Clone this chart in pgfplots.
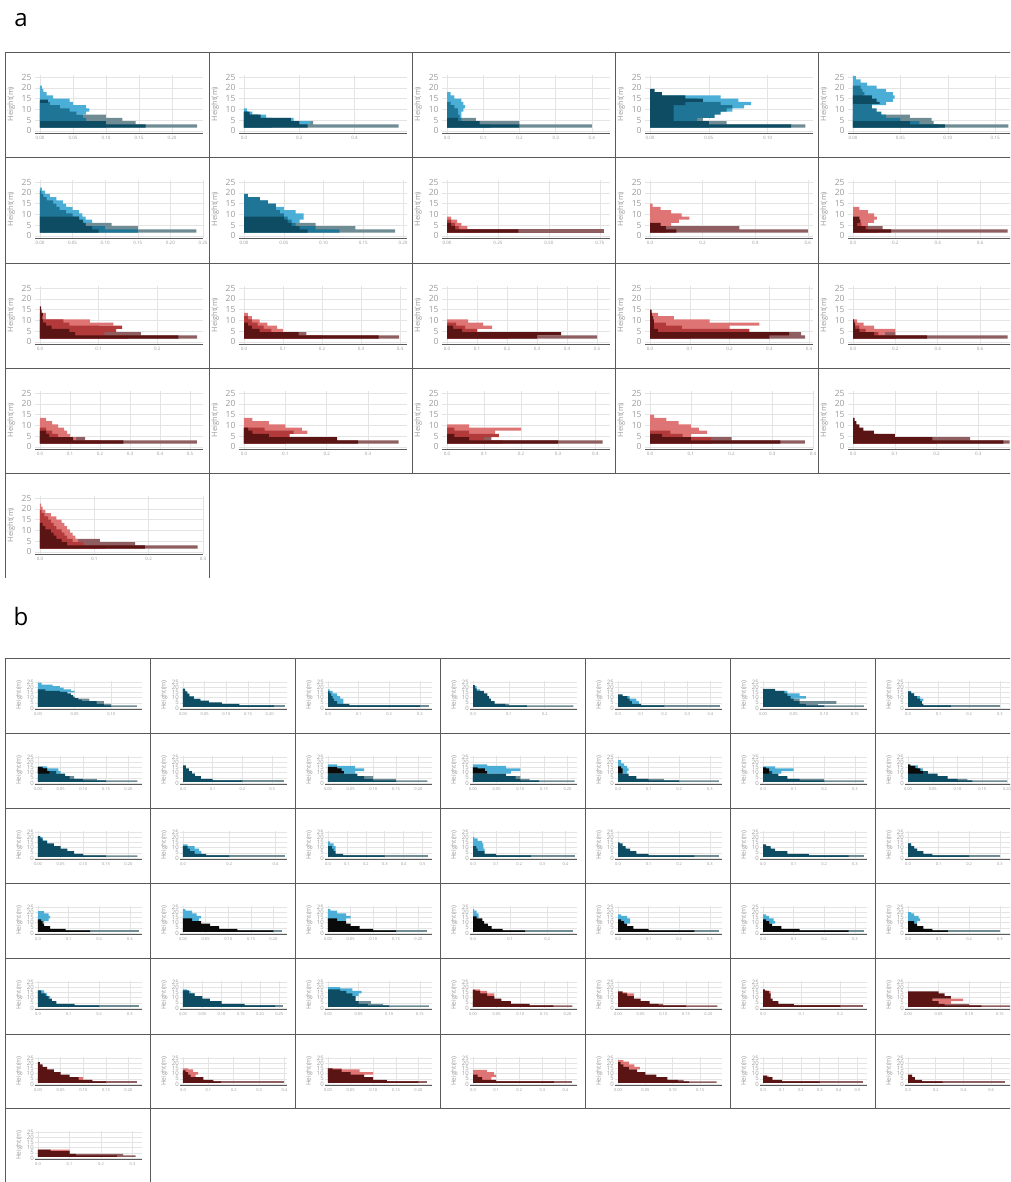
\documentclass[border=0pt]{standalone}
\usepackage{fontspec}
\setmainfont{Open Sans}
\usepackage{pgfplots}
\pgfplotsset{compat=1.18}
\definecolor{cL}{HTML}{4BAED6}
\definecolor{cM}{HTML}{1F7595}
\definecolor{cD}{HTML}{0E4C63}
\definecolor{cG}{HTML}{6F8C94}
\definecolor{cK}{HTML}{0A0A0A}
\definecolor{rL}{HTML}{DE7474}
\definecolor{rM}{HTML}{B23A3A}
\definecolor{rD}{HTML}{5A1414}
\definecolor{rG}{HTML}{8E5E60}
\definecolor{tk}{HTML}{9A9A9A}
\definecolor{gr}{HTML}{E4E4E4}
\definecolor{fr}{HTML}{5A5A5A}
\pgfplotsset{
 cellbase/.style={scale only axis, axis line style={draw=none}, major tick length=0pt,
   grid=major, major grid style={gr, line width=0.5pt}, ymin=-1, ymax=26,
   ytick={0,5,10,15,20,25}, scaled x ticks=false,
   /pgf/number format/assume math mode=true,
   xticklabel style={/pgf/number format/fixed, /pgf/number format/fixed zerofill, text=tk},
   yticklabel style={text=tk}, ylabel={Height(m)}, ylabel style={text=tk},
   after end axis/.code={\draw[fr, line width=0.9pt] (rel axis cs:0,0) -- (rel axis cs:1,0);}},
 cellA/.style={cellbase, width=168pt, height=58pt,
   xticklabel style={font=\fontsize{4.5}{5}\selectfont},
   yticklabel style={font=\fontsize{8.5}{9}\selectfont},
   ylabel style={font=\fontsize{7.5}{8}\selectfont}},
 cellB/.style={cellbase, width=107pt, height=28pt,
   xticklabel style={font=\fontsize{4}{4.5}\selectfont},
   yticklabel style={font=\fontsize{6}{6}\selectfont, inner sep=1pt},
   ylabel style={font=\fontsize{6.5}{6.5}\selectfont}},
}
\newcommand{\G}[2]{\addplot[xbar interval, fill=#1, draw=none] coordinates {#2};}
\newcommand{\PA}[6]{%
 \pgfmathsetmacro\xmn{-5/163*#3}%
 \begin{axis}[cellA, at={(#1pt+30pt,-#2pt-81pt)}, xmin=\xmn, xmax=#3, xtick distance=#4,
   xticklabel style={/pgf/number format/precision=#5}]
 #6
 \end{axis}}
\newcommand{\PB}[6]{%
 \pgfmathsetmacro\xmn{-3/104*#3}%
 \begin{axis}[cellB, at={(#1pt+30pt,-#2pt-51pt)}, xmin=\xmn, xmax=#3, xtick distance=#4,
   xticklabel style={/pgf/number format/precision=#5}]
 #6
 \end{axis}}
\begin{document}
\begin{tikzpicture}[x=1pt,y=1pt]
\path[use as bounding box, clip] (0,0) rectangle (1010,-1182);
\node[font=\fontsize{24}{24}\selectfont] at (21,-20) {a};
\node[font=\fontsize{24}{24}\selectfont] at (21,-616) {b};
% frames a
\foreach \y in {52,157,263,368,473} \draw[fr,line width=0.9pt] (5,-\y) -- (1012,-\y);
\foreach \x in {5,209,412,615,818} \draw[fr,line width=0.9pt] (\x,-52) -- (\x,-473);
\foreach \x in {5,209} \draw[fr,line width=0.9pt] (\x,-473) -- (\x,-578);
% frames b
\foreach \y in {658,733,808,883,958,1034,1108} \draw[fr,line width=0.9pt] (5,-\y) -- (1012,-\y);
\foreach \x in {5,150,295,440,585,730,875} \draw[fr,line width=0.9pt] (\x,-658) -- (\x,-1108);
\foreach \x in {5,150} \draw[fr,line width=0.9pt] (\x,-1108) -- (\x,-1190);
% ---------------- panel a ----------------
\PA{5}{52}{0.247}{0.05}{2}{
\G{cG}{(0.238,1.5)(0.145,3)(0.125,4.5)(0.10,6)(0,7.5)}
\G{cL}{(0,6)(0.07,7.5)(0.075,9)(0.07,10.5)(0.05,12)(0.045,13.5)(0.02,15)(0.01,16.5)(0.005,18)(0.003,19.5)(0,21)}
\G{cM}{(0.1,1.5)(0.08,3)(0.07,4.5)(0.065,6)(0.055,7.5)(0.045,9)(0.03,10.5)(0.015,12)(0,13.5)}
\G{cD}{(0.16,1.5)(0.10,3)(0,4.5)(0,12)(0.012,13)(0,14.5)}
}
\PA{209}{52}{0.59}{0.2}{1}{
\G{cG}{(0.56,1.5)(0.25,3)(0,4.5)}
\G{cL}{(0,1.5)(0.24,3)(0.18,4.5)(0.08,6)(0.03,7.5)(0.01,9)(0,10.5)}
\G{cM}{(0.1,1.5)(0.1,3)(0.1,4.5)(0.05,6)(0.015,7.5)(0,9)}
\G{cD}{(0.23,1.5)(0.2,3)(0.17,4.5)(0.06,6)(0.02,7.5)(0,9)}
}
\PA{412}{52}{0.45}{0.1}{1}{
\G{cG}{(0.40,1.5)(0.2,3)(0.08,4.5)(0,6)}
\G{cL}{(0.04,6)(0.04,7.5)(0.045,9)(0.05,10.5)(0.045,12)(0.04,13.5)(0.02,15)(0.01,16.5)(0,18)}
\G{cM}{(0.12,1.5)(0.08,3)(0.04,4.5)(0.035,6)(0.03,7.5)(0.03,9)(0.02,10.5)(0.01,12)(0,13.5)}
\G{cD}{(0.2,1.5)(0.09,3)(0.03,4.5)(0,6)}
}
\PA{615}{52}{0.1385}{0.05}{2}{
\G{cG}{(0.132,1.5)(0.065,3)(0.045,4.5)(0.04,6)(0,7.5)}
\G{cL}{(0.07,9)(0.08,10.5)(0.086,12)(0.075,13.5)(0.06,15)(0,16.5)}
\G{cM}{(0.05,1.5)(0.04,3)(0.04,4.5)(0.055,6)(0.06,7.5)(0.065,9)(0.07,10.5)(0.06,12)(0.04,13.5)(0,15)}
\G{cD}{(0.12,1.5)(0.05,3)(0.02,4.5)(0.02,6)(0.02,7.5)(0.02,9)(0.02,10.5)(0.03,12)(0.045,13.5)(0.03,15)(0.01,16.5)(0.004,18)(0,19.5)}
}
\PA{818}{52}{0.172}{0.05}{2}{
\G{cG}{(0.164,1.5)(0.085,3)(0.083,4.5)(0.06,6)(0,7.5)}
\G{cL}{(0.035,12)(0.042,13.5)(0.044,15)(0.042,16.5)(0.035,18)(0.025,19.5)(0.015,21)(0.008,22.5)(0.003,24)(0,25.5)}
\G{cM}{(0.09,1.5)(0.07,3)(0.05,4.5)(0.035,6)(0.03,7.5)(0.025,9)(0.02,10.5)(0.02,12)(0.015,13.5)(0.01,15)(0.012,16.5)(0.01,18)(0.008,19.5)(0,21)}
\G{cD}{(0.097,1.5)(0.06,3)(0,4.5)(0,12)(0.028,12.5)(0.025,13.5)(0.02,15)(0,16.5)}
}
\PA{5}{157}{0.25}{0.05}{2}{
\G{cG}{(0.24,1.5)(0.15,3)(0.11,4.5)(0,6)}
\G{cL}{(0.08,6)(0.07,7.5)(0.065,9)(0.06,10.5)(0.05,12)(0.04,13.5)(0.035,15)(0.025,16.5)(0.015,18)(0.008,19.5)(0.003,21)(0,22.5)}
\G{cM}{(0.15,1.5)(0.10,3)(0.07,4.5)(0.06,6)(0.06,7.5)(0.05,9)(0.04,10.5)(0.03,12)(0.025,13.5)(0.02,15)(0.01,16.5)(0.005,18)(0.002,19.5)(0,21)}
\G{cD}{(0.09,1.5)(0.08,3)(0.07,4.5)(0.066,6)(0.06,7.5)(0,9)}
}
\PA{209}{157}{0.205}{0.05}{2}{
\G{cG}{(0.19,1.5)(0.14,3)(0.09,4.5)(0,6)}
\G{cL}{(0.07,6)(0.075,7.5)(0.075,9)(0.065,10.5)(0.05,12)(0.04,13.5)(0.03,15)(0.015,16.5)(0.005,18)(0,19.5)}
\G{cM}{(0.12,1.5)(0.09,3)(0.065,4.5)(0.06,6)(0.055,7.5)(0.05,9)(0.045,10.5)(0.04,12)(0.04,13.5)(0.03,15)(0.02,16.5)(0.005,18)(0,19.5)}
\G{cD}{(0.08,1.5)(0.07,3)(0.06,4.5)(0.055,6)(0.05,7.5)(0,9)}
}
\PA{412}{157}{0.80}{0.25}{2}{
\G{rG}{(0.77,1.5)(0,3)}
\G{rL}{(0.08,1.5)(0.1,3)(0.07,4.5)(0.05,6)(0.02,7.5)(0,9)}
\G{rM}{(0.16,1.5)(0.06,3)(0.04,4.5)(0.02,6)(0,7.5)}
\G{rD}{(0.35,1.5)(0.04,3)(0.02,4.5)(0,6)}
}
\PA{615}{157}{0.62}{0.2}{1}{
\G{rG}{(0.6,1.5)(0.34,3)(0,4.5)}
\G{rL}{(0.05,3)(0.08,4.5)(0.11,6)(0.15,7.5)(0.12,9)(0.08,10.5)(0.04,12)(0.01,13.5)(0,15)}
\G{rM}{(0.06,1.5)(0.05,3)(0,4.5)}
\G{rD}{(0.1,1.5)(0.06,3)(0.04,4.5)(0,6)}
}
\PA{818}{157}{0.77}{0.2}{1}{
\G{rG}{(0.73,1.5)(0.14,3)(0,4.5)}
\G{rL}{(0.07,4.5)(0.1,6)(0.113,7.5)(0.1,9)(0.07,10.5)(0.03,12)(0,13.5)}
\G{rM}{(0.12,1.5)(0.07,3)(0.04,4.5)(0,6)}
\G{rD}{(0.18,1.5)(0.06,3)(0.02,4.5)(0.035,6)(0.03,7.5)(0,9)}
}
\PA{5}{263}{0.278}{0.1}{1}{
\G{rG}{(0.268,1.5)(0.172,3)(0.1,4.5)(0,6)}
\G{rL}{(0.1,6)(0.125,7.5)(0.085,9)(0.01,10.5)(0.01,12)(0,13.5)}
\G{rM}{(0.15,1.5)(0.11,3)(0.13,4.5)(0.14,6)(0.05,7.5)(0.04,9)(0,10.5)}
\G{rD}{(0.236,1.5)(0.06,3)(0.05,4.5)(0.02,6)(0.01,7.5)(0.005,9)(0.004,10.5)(0.005,12)(0.003,13.5)(0.002,15)(0,16.5)}
}
\PA{209}{263}{0.418}{0.1}{1}{
\G{rG}{(0.398,1.5)(0.16,3)(0,4.5)}
\G{rL}{(0.12,3)(0.1,4.5)(0.085,6)(0.06,7.5)(0.04,9)(0.02,10.5)(0.01,12)(0,13.5)}
\G{rM}{(0.2,1.5)(0.1,3)(0.07,4.5)(0.05,6)(0.035,7.5)(0.02,9)(0.01,10.5)(0,12)}
\G{rD}{(0.345,1.5)(0.14,3)(0.04,4.5)(0.02,6)(0.01,7.5)(0,9)}
}
\PA{412}{263}{0.543}{0.1}{1}{
\G{rG}{(0.5,1.5)(0.2,3)(0,4.5)}
\G{rL}{(0.1,4.5)(0.15,6)(0.12,7.5)(0.07,9)(0,10.5)}
\G{rM}{(0.2,1.5)(0.15,3)(0.1,4.5)(0.06,6)(0.03,7.5)(0,9)}
\G{rD}{(0.3,1.5)(0.38,3)(0.05,4.5)(0.02,6)(0,7.5)}
}
\PA{615}{263}{0.41}{0.1}{1}{
\G{rG}{(0.39,1.5)(0.38,3)(0,4.5)}
\G{rL}{(0.05,4.5)(0.2,6)(0.275,7.5)(0.15,9)(0.06,10.5)(0.02,12)(0,13.5)}
\G{rM}{(0.1,1.5)(0.08,3)(0.25,4.5)(0.08,6)(0.04,7.5)(0,9)}
\G{rD}{(0.3,1.5)(0.35,3)(0.02,4.5)(0.01,6)(0.01,7.5)(0.01,9)(0.008,10.5)(0.005,12)(0.004,13.5)(0,15)}
}
\PA{818}{263}{0.77}{0.2}{1}{
\G{rG}{(0.73,1.5)(0.2,3)(0,4.5)}
\G{rL}{(0.15,3)(0.2,4.5)(0.1,6)(0.05,7.5)(0.02,9)(0,10.5)}
\G{rM}{(0.2,1.5)(0.12,3)(0.06,4.5)(0.03,6)(0,7.5)}
\G{rD}{(0.35,1.5)(0.1,3)(0.03,4.5)(0.01,6)(0.01,7.5)(0.005,9)(0,10.5)}
}
\PA{5}{368}{0.543}{0.1}{1}{
\G{rG}{(0.523,1.5)(0.15,3)(0,4.5)}
\G{rL}{(0.12,3)(0.1,4.5)(0.09,6)(0.08,7.5)(0.06,9)(0.04,10.5)(0.02,12)(0,13.5)}
\G{rM}{(0.2,1.5)(0.09,3)(0.06,4.5)(0.04,6)(0.02,7.5)(0,9)}
\G{rD}{(0.278,1.5)(0.11,3)(0.03,4.5)(0.02,6)(0,7.5)}
}
\PA{209}{368}{0.394}{0.1}{1}{
\G{rG}{(0.374,1.5)(0.13,3)(0,4.5)}
\G{rL}{(0.1,4.5)(0.153,6)(0.14,7.5)(0.1,9)(0.06,10.5)(0.02,12)(0,13.5)}
\G{rM}{(0.1,1.5)(0.2,3)(0.11,4.5)(0.12,6)(0.05,7.5)(0,9)}
\G{rD}{(0.276,1.5)(0.225,3)(0.06,4.5)(0.02,6)(0.01,7.5)(0,9)}
}
\PA{412}{368}{0.44}{0.1}{1}{
\G{rG}{(0.42,1.5)(0.12,3)(0,4.5)}
\G{rL}{(0.08,4.5)(0.13,6)(0.2,7.5)(0.06,9)(0,10.5)}
\G{rM}{(0.15,1.5)(0.1,3)(0.14,4.5)(0.06,6)(0.02,7.5)(0,9)}
\G{rD}{(0.3,1.5)(0.06,3)(0.02,4.5)(0,6)}
}
\PA{615}{368}{0.40}{0.1}{1}{
\G{rG}{(0.38,1.5)(0.2,3)(0,4.5)}
\G{rL}{(0.1,4.5)(0.14,6)(0.12,7.5)(0.1,9)(0.07,10.5)(0.04,12)(0.01,13.5)(0,15)}
\G{rM}{(0.15,1.5)(0.15,3)(0.08,4.5)(0.05,6)(0,7.5)}
\G{rD}{(0.32,1.5)(0.1,3)(0.03,4.5)(0,6)}
}
\PA{818}{368}{0.39}{0.1}{1}{
\G{rG}{(0.375,1.5)(0.28,3)(0,4.5)}
\G{rL}{(0.1,3)(0.05,4.5)(0,6)}
\G{rM}{(0.2,1.5)(0.12,3)(0.06,4.5)(0,6)}
\G{rD}{(0.36,1.5)(0.19,3)(0.1,4.5)(0.05,6)(0.025,7.5)(0.015,9)(0.008,10.5)(0.004,12)(0,13.5)}
}
\PA{5}{473}{0.30}{0.1}{1}{
\G{rG}{(0.29,1.5)(0.175,3)(0.11,4.5)(0,6)}
\G{rL}{(0.07,4.5)(0.065,6)(0.06,7.5)(0.055,9)(0.05,10.5)(0.045,12)(0.04,13.5)(0.03,15)(0.02,16.5)(0.01,18)(0.005,19.5)(0.002,21)(0,22.5)}
\G{rM}{(0.12,1.5)(0.08,3)(0.06,4.5)(0.05,6)(0.045,7.5)(0.04,9)(0.03,10.5)(0.025,12)(0.02,13.5)(0.015,15)(0.008,16.5)(0.003,18)(0,19.5)}
\G{rD}{(0.193,1.5)(0.05,3)(0.04,4.5)(0.03,6)(0.025,7.5)(0.02,9)(0.01,10.5)(0.005,12)(0,13.5)}
}
% ---------------- panel b ----------------
% row 1
\PB{5}{658}{0.142}{0.05}{2}{
\G{cG}{(0.135,1)(0.1,2.5)(0.09,4)(0.07,6.5)(0,9)}
\G{cL}{(0.05,15)(0.045,16.5)(0.035,18)(0.03,19.5)(0.02,21)(0.005,22.5)(0,24.5)}
\G{cD}{(0.1,1)(0.09,2.5)(0.08,4)(0.06,6.5)(0.055,8)(0.05,9.5)(0.048,11)(0.045,12.5)(0.04,14)(0.03,15.5)(0.01,16.5)(0,18)}
}
\PB{150}{658}{0.24}{0.05}{2}{
\G{cG}{(0.235,1)(0,2.5)}
\G{cL}{(0.06,4)(0.04,6.5)(0.025,9)(0.015,11.5)(0.008,14)(0.004,16.5)(0,19)}
\G{cD}{(0.21,1)(0.13,2.5)(0.09,4)(0.06,5.5)(0.04,7)(0.025,8.5)(0.015,11)(0.01,13.5)(0.005,16)(0,18.5)}
}
\PB{295}{658}{0.34}{0.1}{1}{
\G{cG}{(0.33,1)(0,2.5)}
\G{cL}{(0.05,4)(0.05,6.5)(0.04,9)(0.03,11.5)(0.015,14)(0.005,16.5)(0,18)}
\G{cD}{(0.3,1)(0.07,2.5)(0.03,4)(0.02,6.5)(0.015,9)(0.01,11.5)(0.005,14)(0,16)}
}
\PB{440}{658}{0.29}{0.1}{1}{
\G{cG}{(0.28,1)(0.1,2.5)(0,4)}
\G{cL}{(0.03,9)(0.02,14)(0.01,18)(0,21)}
\G{cD}{(0.15,1)(0.09,2.5)(0.06,4)(0.05,6.5)(0.045,9)(0.04,11.5)(0.03,14)(0.01,16.5)(0.005,19)(0,22)}
}
\PB{585}{658}{0.45}{0.1}{1}{
\G{cG}{(0.44,1)(0,2.5)}
\G{cL}{(0.09,4)(0.08,6.5)(0.05,9)(0,11.5)}
\G{cD}{(0.2,1)(0.1,2.5)(0.06,4)(0.05,6.5)(0.04,9)(0.02,11.5)(0,13)}
}
\PB{730}{658}{0.17}{0.05}{2}{
\G{cG}{(0.165,1)(0.09,2.5)(0.12,4)(0.06,6.5)(0,9)}
\G{cL}{(0.03,6.5)(0.07,9)(0.06,11.5)(0.04,14)(0,16.5)}
\G{cD}{(0.1,1)(0.07,2.5)(0.06,4)(0.05,6.5)(0.045,9)(0.04,11.5)(0.035,14)(0.02,16.5)(0,18.5)}
}
\PB{875}{658}{0.34}{0.1}{1}{
\G{cG}{(0.3,1)(0,2.5)}
\G{cL}{(0.05,6.5)(0.04,9)(0.02,11.5)(0.01,14)(0,16)}
\G{cD}{(0.14,1)(0.05,2.5)(0.045,4)(0.04,6.5)(0.03,9)(0.02,11.5)(0.01,14)(0,16)}
}
% row 2
\PB{5}{733}{0.23}{0.05}{2}{
\G{cG}{(0.22,1)(0.13,2.5)(0.08,4)(0,6.5)}
\G{cL}{(0.05,9)(0.045,11.5)(0.02,14)(0,16)}
\G{cD}{(0.15,1)(0.1,2.5)(0.07,4)(0.06,6.5)(0.04,9)(0.02,11.5)(0,14)}
\G{cK}{(0.025,9)(0.02,11.5)(0.01,14)(0,15.5)}
}
\PB{150}{733}{0.35}{0.1}{1}{
\G{cG}{(0.34,1)(0,2.5)}
\G{cL}{(0.04,6.5)(0.03,9)(0,11.5)}
\G{cD}{(0.2,1)(0.1,2.5)(0.06,4)(0.04,6.5)(0.03,9)(0.02,11.5)(0.01,14)(0,17)}
}
\PB{295}{733}{0.23}{0.05}{2}{
\G{cG}{(0.22,1)(0.15,2.5)(0.1,4)(0,6.5)}
\G{cL}{(0.06,9)(0.08,11.5)(0.06,14)(0.02,16.5)(0,18)}
\G{cD}{(0.15,1)(0.1,2.5)(0.08,4)(0.065,6.5)(0,9)}
\G{cK}{(0.035,9)(0.03,11.5)(0.02,14)(0,15.5)}
}
\PB{440}{733}{0.22}{0.05}{2}{
\G{cG}{(0.215,1)(0.12,2.5)(0.1,4)(0,6.5)}
\G{cL}{(0.08,9)(0.1,11.5)(0.07,14)(0.03,16.5)(0,18)}
\G{cD}{(0.14,1)(0.1,2.5)(0.09,4)(0.07,6.5)(0,9)}
\G{cK}{(0.03,9)(0.025,11.5)(0.01,14)(0,15)}
}
\PB{585}{733}{0.34}{0.1}{1}{
\G{cG}{(0.33,1)(0.15,2.5)(0,4)}
\G{cL}{(0.03,9)(0.035,11.5)(0.03,14)(0.02,16.5)(0.01,19)(0,22)}
\G{cD}{(0.2,1)(0.1,2.5)(0.06,4)(0.035,6.5)(0,9)}
\G{cK}{(0.015,9)(0.015,11.5)(0.01,14)(0,16)}
}
\PB{730}{733}{0.34}{0.1}{1}{
\G{cG}{(0.33,1)(0.2,2.5)(0,4)}
\G{cL}{(0.06,9)(0.1,11.5)(0.04,14)(0,16)}
\G{cD}{(0.2,1)(0.12,2.5)(0.08,4)(0.05,6.5)(0.03,9)(0,11.5)}
\G{cK}{(0.02,9)(0.02,11.5)(0.01,14)(0,15)}
}
\PB{875}{733}{0.21}{0.05}{2}{
\G{cG}{(0.2,1)(0.12,2.5)(0,4)}
\G{cL}{(0.03,9)(0.02,14)(0,17)}
\G{cD}{(0.13,1)(0.1,2.5)(0.08,4)(0.06,6.5)(0.04,9)(0.02,11.5)(0,14)}
\G{cK}{(0.03,9)(0.025,11.5)(0.015,14)(0.005,16.5)(0,18)}
}
% row 3
\PB{5}{808}{0.23}{0.05}{2}{
\G{cG}{(0.22,1)(0.1,2.5)(0,4)}
\G{cL}{(0.02,14)(0.01,17)(0,20)}
\G{cD}{(0.15,1)(0.1,2.5)(0.08,4)(0.065,6.5)(0.05,9)(0.035,11.5)(0.02,14)(0.01,16.5)(0.005,19)(0,21)}
}
\PB{150}{808}{0.45}{0.2}{1}{
\G{cG}{(0.44,1)(0,2.5)}
\G{cL}{(0.08,4)(0.07,6.5)(0.05,9)(0.02,11.5)(0,13)}
\G{cD}{(0.2,1)(0.1,2.5)(0.05,4)(0.03,6.5)(0.02,9)(0,11.5)}
}
\PB{295}{808}{0.55}{0.1}{1}{
\G{cG}{(0.53,1)(0,2.5)}
\G{cL}{(0.04,6.5)(0.04,9)(0.03,11.5)(0.01,14)(0,16)}
\G{cD}{(0.3,1)(0.08,2.5)(0.04,4)(0.03,6.5)(0.02,9)(0,11.5)}
}
\PB{440}{808}{0.45}{0.1}{1}{
\G{cG}{(0.44,1)(0,2.5)}
\G{cL}{(0.05,6.5)(0.045,9)(0.045,11.5)(0.04,14)(0.02,16.5)(0.005,19)(0,20)}
\G{cD}{(0.25,1)(0.1,2.5)(0.05,4)(0.02,6.5)(0.015,9)(0,11.5)}
}
\PB{585}{808}{0.34}{0.1}{1}{
\G{cG}{(0.33,1)(0,2.5)}
\G{cL}{(0.03,6.5)(0.02,9)(0,11.5)}
\G{cD}{(0.25,1)(0.1,2.5)(0.06,4)(0.04,6.5)(0.025,9)(0.015,11.5)(0.005,14)(0,15)}
}
\PB{730}{808}{0.34}{0.1}{1}{
\G{cG}{(0.33,1)(0,2.5)}
\G{cL}{(0.03,6.5)(0.02,9)(0,11)}
\G{cD}{(0.28,1)(0.15,2.5)(0.08,4)(0.04,6.5)(0.025,9)(0.01,11.5)(0,13)}
}
\PB{875}{808}{0.34}{0.1}{1}{
\G{cG}{(0.3,1)(0,2.5)}
\G{cL}{(0.03,6.5)(0.02,9)(0.01,11.5)(0,14)}
\G{cD}{(0.2,1)(0.08,2.5)(0.05,4)(0.03,6.5)(0.02,9)(0.01,11.5)(0,14)}
}
% row 4
\PB{5}{883}{0.34}{0.1}{1}{
\G{cG}{(0.33,1)(0,2.5)}
\G{cL}{(0.02,9)(0.035,11.5)(0.04,14)(0.035,16.5)(0.02,19)(0,21)}
\G{cK}{(0.17,1)(0.09,2.5)(0.04,4)(0.02,6.5)(0.015,9)(0.01,11.5)(0,13)}
}
\PB{150}{883}{0.23}{0.05}{2}{
\G{cG}{(0.22,1)(0,2.5)}
\G{cL}{(0.035,11.5)(0.04,14)(0.03,16.5)(0.02,19)(0.005,21.5)(0,23)}
\G{cK}{(0.2,1)(0.12,2.5)(0.08,4)(0.06,6.5)(0.04,9)(0.02,11.5)(0,14)}
}
\PB{295}{883}{0.23}{0.05}{2}{
\G{cG}{(0.22,1)(0,2.5)}
\G{cL}{(0.04,11.5)(0.05,14)(0.04,16.5)(0.02,19)(0.005,21.5)(0,23)}
\G{cK}{(0.15,1)(0.1,2.5)(0.07,4)(0.05,6.5)(0.04,9)(0.02,11.5)(0,14)}
}
\PB{440}{883}{0.28}{0.1}{1}{
\G{cG}{(0.27,1)(0,2.5)}
\G{cL}{(0.015,14)(0.015,16.5)(0.01,19)(0.003,21.5)(0,23)}
\G{cK}{(0.14,1)(0.08,2.5)(0.05,4)(0.04,6.5)(0.03,9)(0.025,11.5)(0.01,14)(0,16)}
}
\PB{585}{883}{0.34}{0.1}{1}{
\G{cG}{(0.33,1)(0,2.5)}
\G{cL}{(0.04,9)(0.04,11.5)(0.03,14)(0.01,16.5)(0,18)}
\G{cK}{(0.25,1)(0.1,2.5)(0.05,4)(0.03,6.5)(0.02,9)(0.01,11.5)(0,13)}
}
\PB{730}{883}{0.34}{0.1}{1}{
\G{cG}{(0.33,1)(0,2.5)}
\G{cL}{(0.04,9)(0.035,11.5)(0.02,14)(0.01,16.5)(0,18)}
\G{cK}{(0.28,1)(0.12,2.5)(0.06,4)(0.03,6.5)(0.02,9)(0.01,11.5)(0,13)}
}
\PB{875}{883}{0.34}{0.1}{1}{
\G{cG}{(0.3,1)(0,2.5)}
\G{cL}{(0.03,9)(0.04,11.5)(0.035,14)(0.02,16.5)(0.01,19)(0,20)}
\G{cK}{(0.13,1)(0.08,2.5)(0.05,4)(0.03,6.5)(0.02,9)(0,11.5)}
}
% row 5
\PB{5}{958}{0.34}{0.1}{1}{
\G{cG}{(0.33,1)(0,2.5)}
\G{cL}{(0.04,9)(0.03,11.5)(0.02,14)(0,17)}
\G{cD}{(0.2,1)(0.12,2.5)(0.06,4)(0.045,6.5)(0.035,9)(0.025,11.5)(0.01,14)(0,17)}
}
\PB{150}{958}{0.27}{0.05}{2}{
\G{cG}{(0.26,1)(0,2.5)}
\G{cL}{(0.03,11.5)(0.02,14)(0.01,16.5)(0,18)}
\G{cD}{(0.24,1)(0.16,2.5)(0.1,4)(0.07,6.5)(0.05,9)(0.03,11.5)(0.015,14)(0,17)}
}
\PB{295}{958}{0.17}{0.05}{2}{
\G{cG}{(0.165,1)(0.09,2.5)(0.07,4)(0,6.5)}
\G{cL}{(0.05,11.5)(0.055,14)(0.04,16.5)(0.02,19)(0,20)}
\G{cD}{(0.1,1)(0.065,2.5)(0.05,4)(0.045,6.5)(0.045,9)(0.04,11.5)(0.03,14)(0.02,16.5)(0,18)}
}
\PB{440}{958}{0.22}{0.05}{2}{
\G{rG}{(0.21,1)(0.11,2.5)(0.07,4)(0,6.5)}
\G{rL}{(0.03,9)(0.045,11.5)(0.03,14)(0.015,16.5)(0,18)}
\G{rD}{(0.17,1)(0.12,2.5)(0.08,4)(0.06,6.5)(0.045,9)(0.03,11.5)(0.015,14)(0.005,16.5)(0,17.5)}
}
\PB{585}{958}{0.23}{0.05}{2}{
\G{rG}{(0.22,1)(0.1,2.5)(0,4)}
\G{rL}{(0.02,9)(0.035,11.5)(0.02,14)(0,15)}
\G{rD}{(0.15,1)(0.09,2.5)(0.07,4)(0.05,6.5)(0.035,9)(0.02,11.5)(0.01,14)(0,16)}
}
\PB{730}{958}{0.27}{0.1}{1}{
\G{rG}{(0.26,1)(0,2.5)}
\G{rL}{(0.02,11.5)(0.02,14)(0.01,16.5)(0,17)}
\G{rD}{(0.2,1)(0.08,2.5)(0.04,4)(0.025,6.5)(0.02,9)(0.02,11.5)(0.015,14)(0.005,16.5)(0,18)}
}
\PB{875}{958}{0.17}{0.05}{2}{
\G{rG}{(0.17,1)(0.1,2.5)(0,4)}
\G{rL}{(0.07,4)(0.09,6.5)(0,9)}
\G{rD}{(0.12,1)(0.06,2.5)(0.05,4)(0.04,6.5)(0.07,9)(0.06,11.5)(0.05,14)(0,16)}
}
% row 6
\PB{5}{1034}{0.23}{0.05}{2}{
\G{rG}{(0.22,1)(0,2.5)}
\G{rL}{(0.12,2.5)(0.1,4)(0,6.5)}
\G{rD}{(0.15,1)(0.12,2.5)(0.09,4)(0.07,6.5)(0.05,9)(0.035,11.5)(0.02,14)(0.01,16.5)(0.004,19)(0,21)}
}
\PB{150}{1034}{0.41}{0.1}{1}{
\G{rG}{(0.4,1)(0,2.5)}
\G{rL}{(0.05,6.5)(0.06,9)(0.04,11.5)(0.02,14)(0,15)}
\G{rD}{(0.15,1)(0.12,2.5)(0.08,4)(0.03,6.5)(0.02,9)(0.01,11.5)(0,13)}
}
\PB{295}{1034}{0.23}{0.05}{2}{
\G{rG}{(0.22,1)(0,2.5)}
\G{rL}{(0.08,6.5)(0.1,9)(0.07,11.5)(0.03,14)(0,15)}
\G{rD}{(0.2,1)(0.13,2.5)(0.1,4)(0.08,6.5)(0.05,9)(0.03,11.5)(0.01,14)(0,15)}
}
\PB{440}{1034}{0.45}{0.1}{1}{
\G{rG}{(0.43,1)(0,2.5)}
\G{rL}{(0.08,4)(0.1,6.5)(0.09,9)(0.06,11.5)(0,13.5)}
\G{rD}{(0.35,1)(0.1,2.5)(0.04,4)(0.02,6.5)(0,9)}
}
\PB{585}{1034}{0.19}{0.05}{2}{
\G{rG}{(0.18,1)(0.12,2.5)(0,4)}
\G{rL}{(0.04,14)(0.03,16.5)(0.02,19)(0.01,21.5)(0,23)}
\G{rD}{(0.13,1)(0.11,2.5)(0.09,4)(0.07,6.5)(0.05,9)(0.035,11.5)(0.02,14)(0.01,16.5)(0.005,19)(0,21)}
}
\PB{730}{1034}{0.55}{0.1}{1}{
\G{rG}{(0.53,1)(0,2.5)}
\G{rL}{(0.05,4)(0.03,6.5)(0,8)}
\G{rD}{(0.3,1)(0.1,2.5)(0.05,4)(0.02,6.5)(0,8)}
}
\PB{875}{1034}{0.75}{0.2}{1}{
\G{rG}{(0.7,1)(0,2.5)}
\G{rL}{(0.05,4)(0.03,6.5)(0,8)}
\G{rD}{(0.25,1)(0.1,2.5)(0.05,4)(0.03,6.5)(0,9)}
}
% row 7
\PB{5}{1108}{0.33}{0.1}{1}{
\G{rG}{(0.31,1)(0.27,2.5)(0,4)}
\G{rL}{(0.1,4)(0.1,6.5)(0,8)}
\G{rD}{(0.25,1)(0.12,2.5)(0.1,4)(0.04,6.5)(0,8)}
}
\end{tikzpicture}
\end{document}
